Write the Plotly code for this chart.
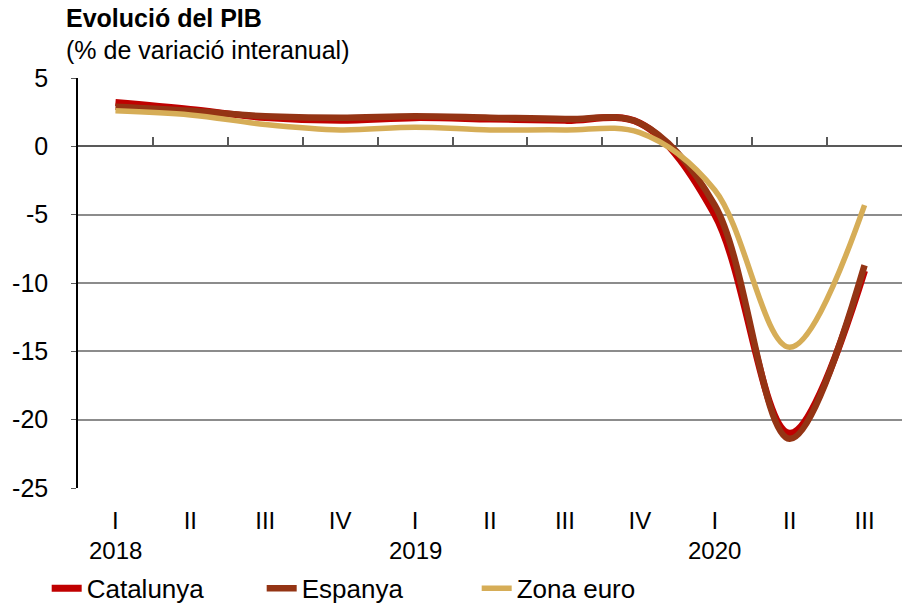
import plotly.graph_objects as go

# Quarters 2018 I .. 2020 III
quarters = ["I", "II", "III", "IV", "I", "II", "III", "IV", "I", "II", "III"]
years = ["2018", "2019", "2020"]
year_pos = [0, 4, 8]

catalunya = [3.2, 2.7, 2.1, 1.9, 2.1, 2.0, 1.9, 1.7, -5.0, -21.0, -9.1]
espanya = [2.9, 2.6, 2.2, 2.1, 2.2, 2.1, 2.0, 1.7, -4.3, -21.4, -8.7]
zona_euro = [2.6, 2.3, 1.6, 1.2, 1.4, 1.2, 1.2, 1.0, -3.2, -14.7, -4.3]

y_ticks = [5, 0, -5, -10, -15, -20, -25]
y_labels = ["5", "0", "-5", "-10", "-15", "-20", "-25"]

series = [
    ("Catalunya", catalunya, "#C00000", 7),
    ("Espanya", espanya, "#943414", 6.5),
    ("Zona euro", zona_euro, "#D6AD57", 5.5),
]

x = list(range(len(quarters)))
y_min, y_max = -25, 5

fig = go.Figure()
for name, vals, color, w in series:
    fig.add_trace(go.Scatter(
        x=x, y=vals, name=name, mode="lines",
        line=dict(color=color, width=w, shape="spline", smoothing=1),
    ))

# invisible trace so the zero-line tick axis gets drawn
fig.add_trace(go.Scatter(x=x, y=catalunya, xaxis="x2", mode="lines",
                         opacity=0, showlegend=False, hoverinfo="skip"))

font = "Liberation Sans, Arial, sans-serif"

fig.update_layout(
    width=907, height=607,
    margin=dict(l=78, r=5, t=78, b=119, autoexpand=False),
    paper_bgcolor="white", plot_bgcolor="white",
    font=dict(family=font, size=24, color="black"),
    showlegend=True,
    legend=dict(orientation="h", x=-0.038, xanchor="left", y=-0.245, yanchor="middle",
                font=dict(size=26), entrywidth=170, tracegroupgap=0,
                bgcolor="rgba(0,0,0,0)"),
    xaxis=dict(range=[-0.5, len(x) - 0.5], tickvals=x, ticktext=quarters,
               showgrid=False, zeroline=False, showline=False, ticks="",
               ticklabelstandoff=16, tickfont=dict(size=24)),
    xaxis2=dict(overlaying="x", anchor="free",
                position=(0 - y_min) / (y_max - y_min),
                range=[-0.5, len(x) - 0.5],
                tickvals=[i + 0.5 for i in x[:-1]],
                showticklabels=False, ticks="inside", ticklen=9, tickwidth=1.5,
                tickcolor="#595959", showgrid=False, zeroline=False, showline=False),
    yaxis=dict(range=[y_min, y_max], tickvals=y_ticks, ticktext=y_labels,
               showgrid=True, gridcolor="#8c8c8c",
               gridwidth=2, zeroline=True, zerolinecolor="#595959", zerolinewidth=2,
               showline=True, linecolor="black", linewidth=1.5,
               ticks="outside", ticklen=5, tickcolor="#595959",
               ticklabelstandoff=18, tickfont=dict(size=25)),
)

for yr, pos in zip(years, year_pos):
    fig.add_annotation(x=pos, y=-0.152, xref="x", yref="paper", text=yr,
                       showarrow=False, font=dict(size=24), yanchor="middle")

fig.add_annotation(x=-0.017, y=1.146, xref="paper", yref="paper",
                   text="<b>Evolució del PIB</b>", showarrow=False,
                   xanchor="left", yanchor="middle", font=dict(size=25))
fig.add_annotation(x=-0.017, y=1.068, xref="paper", yref="paper",
                   text="(% de variació interanual)", showarrow=False,
                   xanchor="left", yanchor="middle", font=dict(size=25))

# drop the page's default body margin so the figure sits at the window corner
fig.write_html("out.html", config={"displayModeBar": False},
               post_script="document.body.style.margin='0';")
